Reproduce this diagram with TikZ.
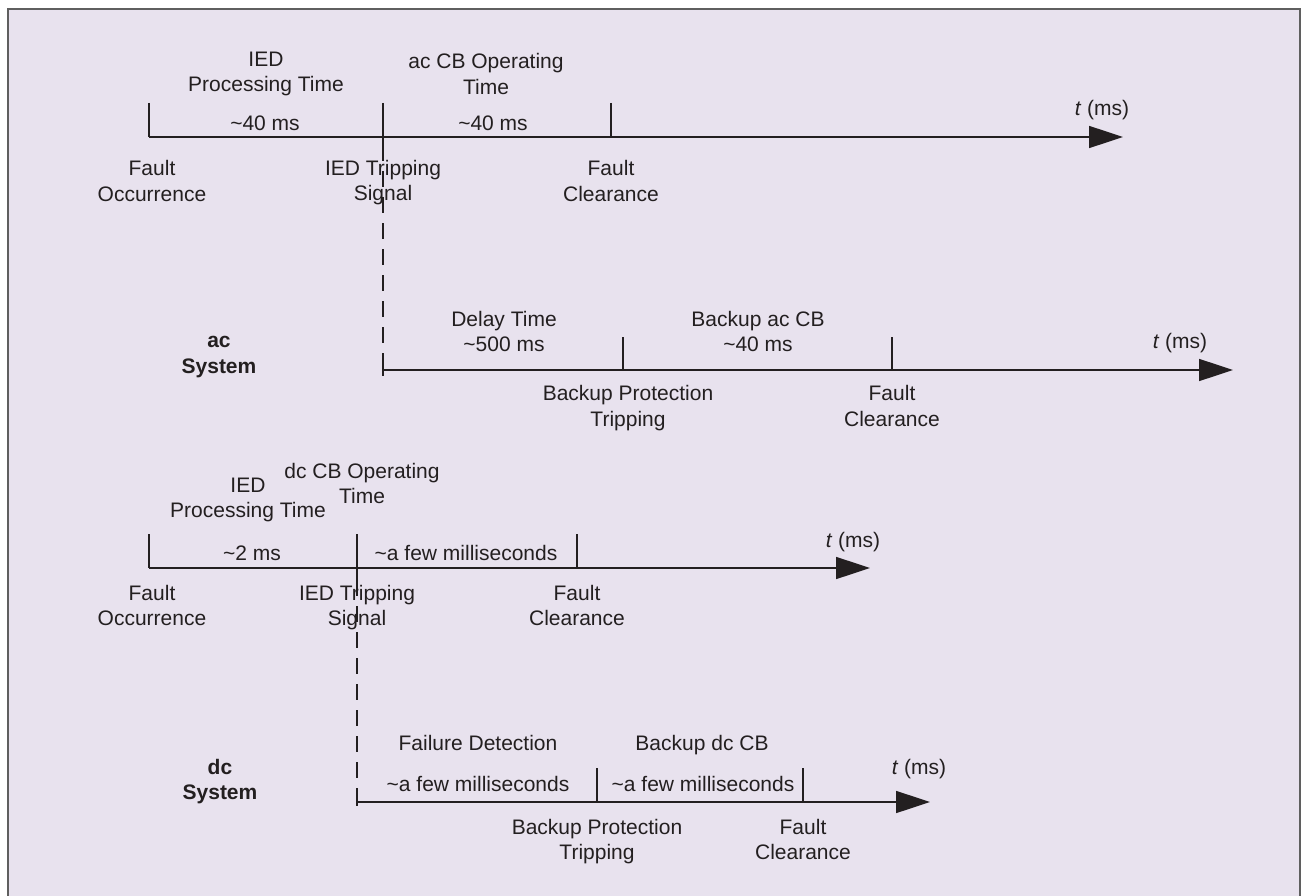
\documentclass[tikz,border=0pt]{standalone}
\usepackage{fontspec}
\setmainfont{Liberation Sans}
\usetikzlibrary{arrows.meta}
\definecolor{bgc}{RGB}{232,226,238}
\definecolor{ink}{RGB}{35,31,32}
\definecolor{framec}{RGB}{95,95,95}
\begin{document}
\begin{tikzpicture}[x=1pt,y=-1pt,
  lbl/.style={font=\fontsize{21}{25.5}\selectfont, text=ink, align=center, inner sep=0pt},
  boldlbl/.style={lbl, font=\fontsize{21}{25.5}\selectfont\bfseries},
  axisline/.style={draw=ink, line width=1.6pt, -{Triangle[length=34pt,width=22pt]}},
  tickline/.style={draw=ink, line width=1.6pt},
  dashline/.style={draw=ink, line width=1.6pt, dash pattern=on 16pt off 10pt}]
\useasboundingbox (0,0) rectangle (1303,896);
\fill[white] (0,0) rectangle (1303,896);
\fill[bgc] (8,9) rectangle (1300,896);
\draw[framec, line width=2pt] (8,896) -- (8,9) -- (1300,9) -- (1300,896);

% ---------- ac primary timeline ----------
\coordinate (a0) at (149,137);
\coordinate (a0t) at (149,103);
\coordinate (a1) at (383,137);
\coordinate (a1t) at (383,103);
\coordinate (a1b) at (383,145);
\coordinate (a2) at (611,137);
\coordinate (a2t) at (611,103);
\coordinate (aend) at (1123,137);
\draw[axisline] (a0) -- (aend);
\draw[tickline] (a0t) -- (a0);
\draw[tickline] (a1t) -- (a1b);
\draw[tickline] (a2t) -- (a2);

\node[lbl] (aIED) at (266,74) {IED\\Processing Time};
\node[lbl] (aCB) at (486,74) {ac CB Operating\\Time};
\node[lbl] (aT1) at (265,123) {\textasciitilde 40 ms};
\node[lbl] (aT2) at (493,123) {\textasciitilde 40 ms};
\node[lbl] (aFO) at (152,181) {Fault\\Occurrence};
\node[lbl] (aTS) at (383,182.5) {IED Tripping\\Signal};
\node[lbl] (aFC) at (611,181) {Fault\\Clearance};
\node[lbl] (at) at (1102,110) {\textit{t} (ms)};

% ---------- ac backup timeline ----------
\coordinate (b0) at (383,370);
\coordinate (b0t) at (383,361);
\coordinate (b0u) at (383,376);
\coordinate (b1) at (623,370);
\coordinate (b1t) at (623,337);
\coordinate (b2) at (892,370);
\coordinate (b2t) at (892,337);
\coordinate (bend) at (1233,370);
\draw[dashline] (a1b) -- (b0t);
\draw[tickline] (b0t) -- (b0u);
\draw[axisline] (b0) -- (bend);
\draw[tickline] (b1t) -- (b1);
\draw[tickline] (b2t) -- (b2);

\node[boldlbl] (acsys) at (219,357) {ac\\System};
\node[lbl] (bD) at (504,321) {Delay Time};
\node[lbl] (bD2) at (504,344) {\textasciitilde 500 ms};
\node[lbl] (bB) at (758,321) {Backup ac CB};
\node[lbl] (bB2) at (758,344) {\textasciitilde 40 ms};
\node[lbl] (bBP) at (628,408) {Backup Protection\\Tripping};
\node[lbl] (bFC) at (892,406) {Fault\\Clearance};
\node[lbl] (bt) at (1180,343) {\textit{t} (ms)};

% ---------- dc primary timeline ----------
\coordinate (c0) at (149,568);
\coordinate (c0t) at (149,534);
\coordinate (c1) at (357,568);
\coordinate (c1t) at (357,534);
\coordinate (c1b) at (357,580);
\coordinate (c2) at (577,568);
\coordinate (c2t) at (577,534);
\coordinate (cend) at (870,568);
\draw[axisline] (c0) -- (cend);
\draw[tickline] (c0t) -- (c0);
\draw[tickline] (c1t) -- (c1b);
\draw[tickline] (c2t) -- (c2);

\node[lbl] (cIED) at (248,500) {IED\\Processing Time};
\node[lbl] (cCB) at (362,483.5) {dc CB Operating\\Time};
\node[lbl] (cT1) at (252,553) {\textasciitilde 2 ms};
\node[lbl] (cT2) at (466,553) {\textasciitilde a few milliseconds};
\node[lbl] (cFO) at (152,605.5) {Fault\\Occurrence};
\node[lbl] (cTS) at (357,607.5) {IED Tripping\\Signal};
\node[lbl] (cFC) at (577,605.5) {Fault\\Clearance};
\node[lbl] (ct) at (853,542) {\textit{t} (ms)};

% ---------- dc backup timeline ----------
\coordinate (d0) at (357,802);
\coordinate (d0t) at (357,791);
\coordinate (d0u) at (357,806);
\coordinate (d1) at (597,802);
\coordinate (d1t) at (597,768);
\coordinate (d2) at (803,802);
\coordinate (d2t) at (803,768);
\coordinate (dend) at (930,802);
\draw[dashline] (c1b) -- (d0t);
\draw[tickline] (d0t) -- (d0u);
\draw[axisline] (d0) -- (dend);
\draw[tickline] (d1t) -- (d1);
\draw[tickline] (d2t) -- (d2);

\node[boldlbl] (dcsys) at (220,781.5) {dc\\System};
\node[lbl] (dF) at (478,743) {Failure Detection};
\node[lbl] (dF2) at (478,784) {\textasciitilde a few milliseconds};
\node[lbl] (dB) at (702,745) {Backup dc CB};
\node[lbl] (dB2) at (703,784) {\textasciitilde a few milliseconds};
\node[lbl] (dBP) at (597,841.5) {Backup Protection\\Tripping};
\node[lbl] (dFC) at (803,839.5) {Fault\\Clearance};
\node[lbl] (dt) at (919,769) {\textit{t} (ms)};
\end{tikzpicture}
\end{document}
